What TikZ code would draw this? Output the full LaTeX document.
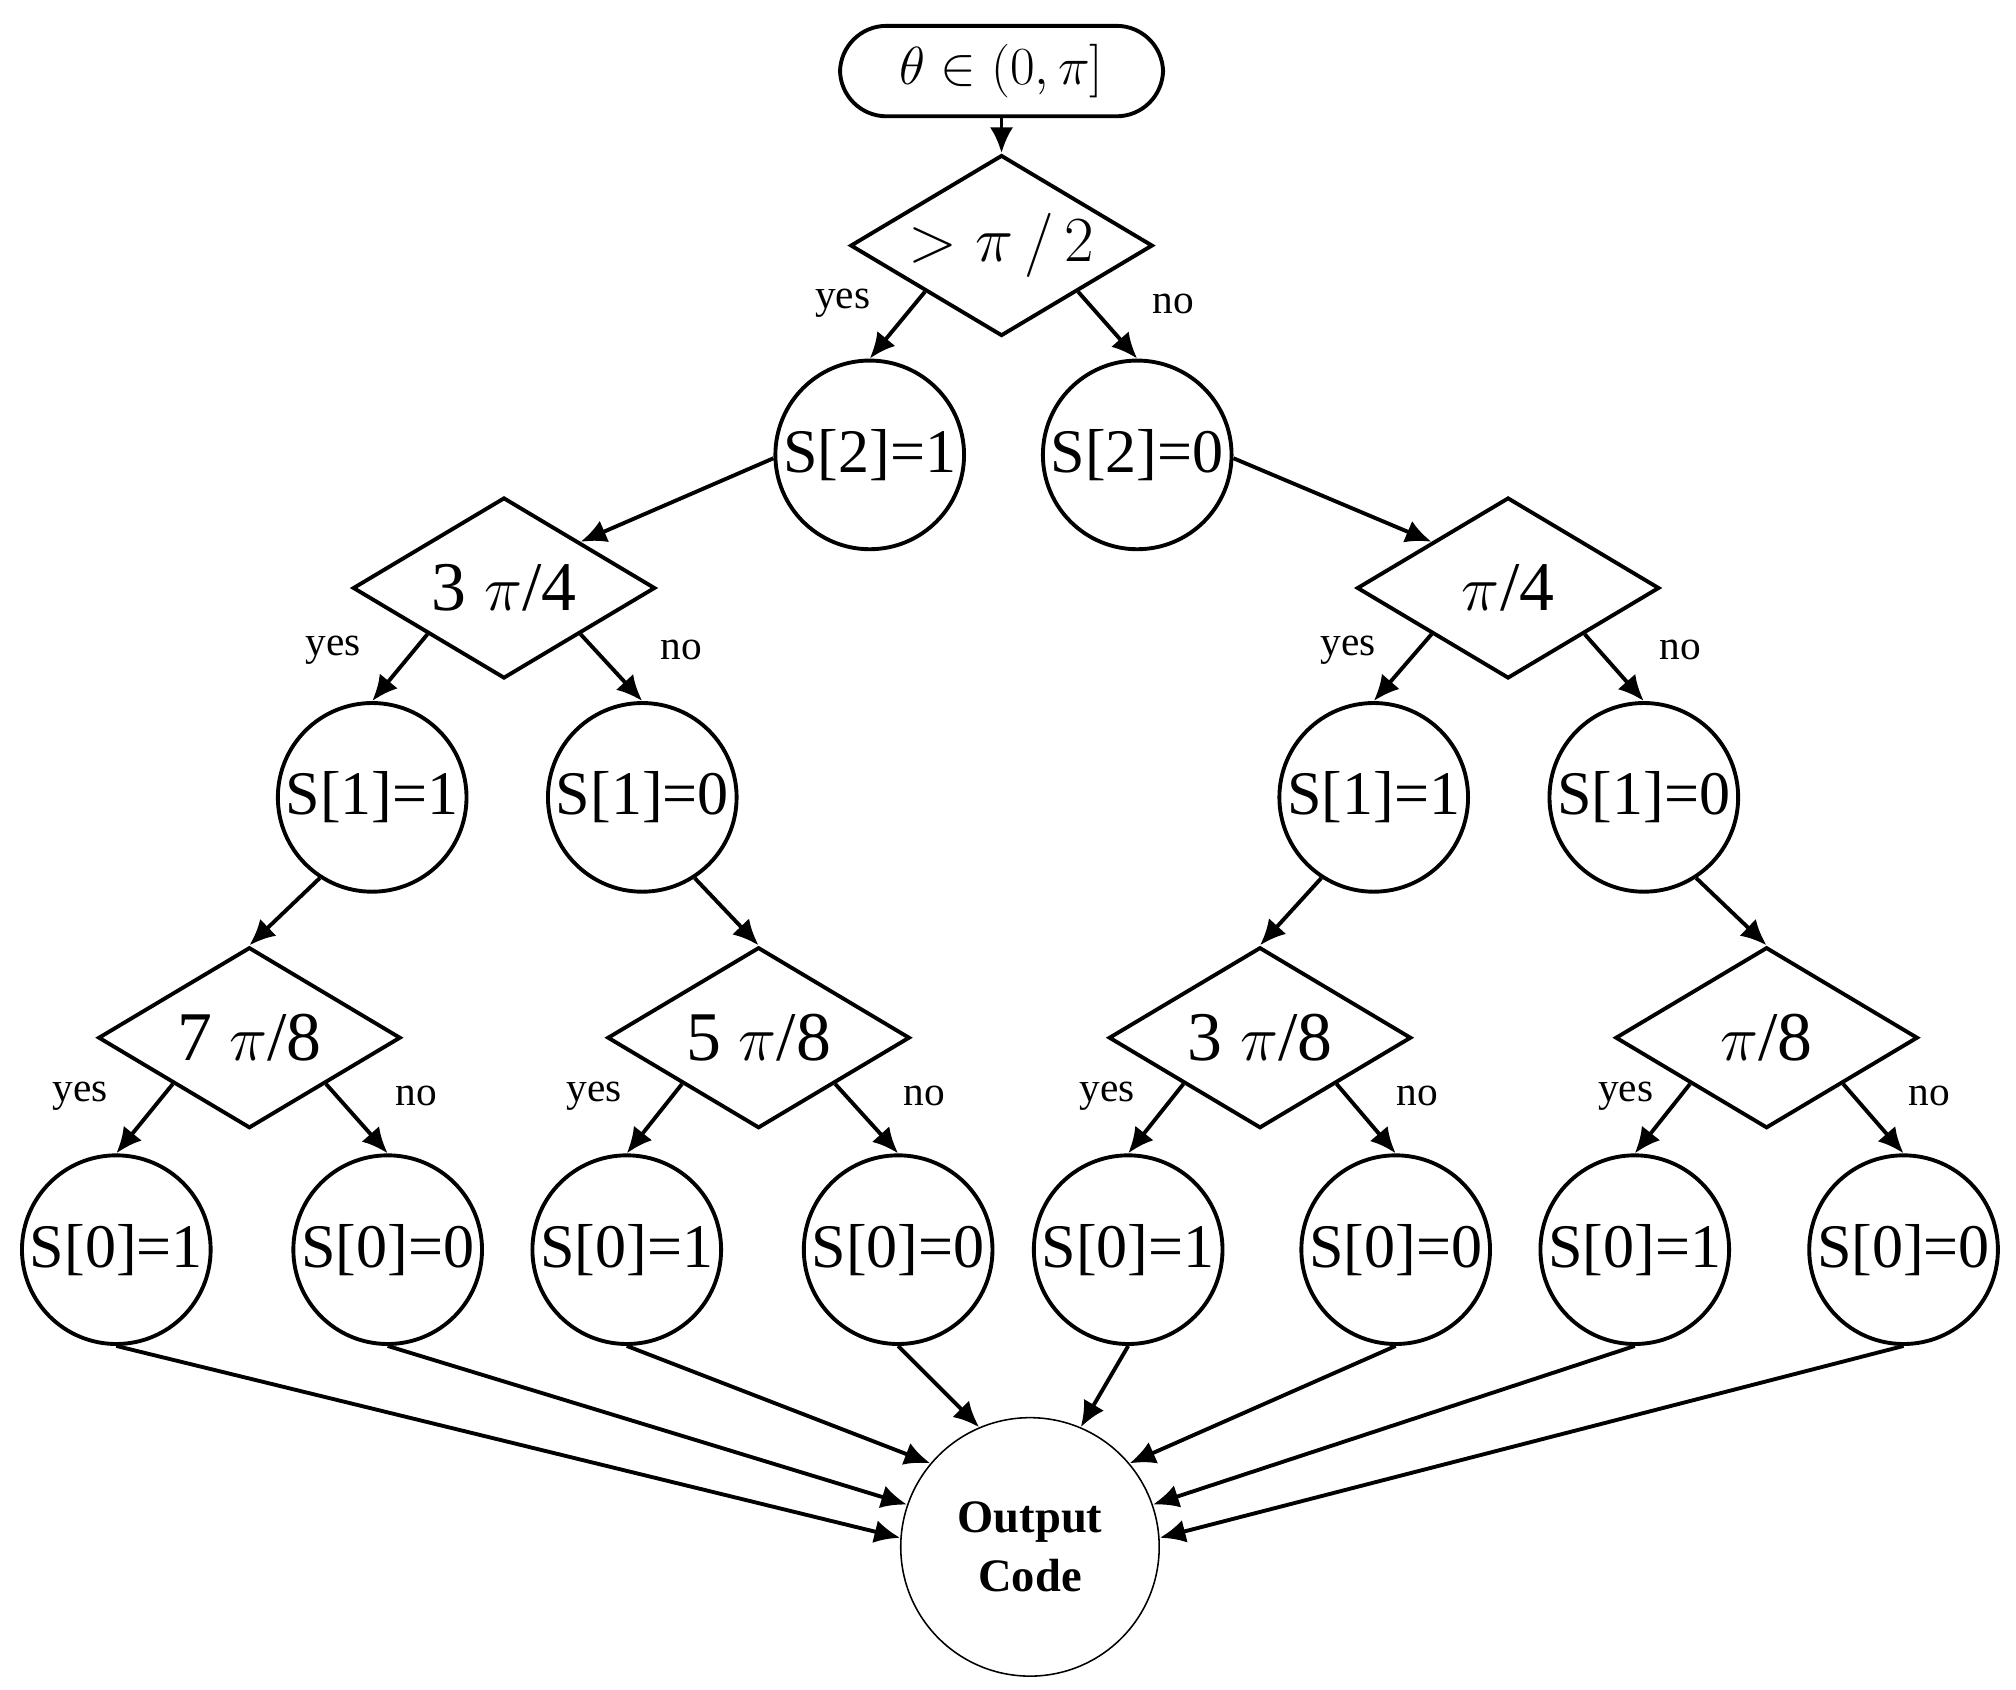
\documentclass[tikz,border=0pt]{standalone}
\usepackage{fontspec}
\setmainfont{Liberation Serif}
\usetikzlibrary{shapes.geometric,arrows.meta}
\begin{document}
\begin{tikzpicture}[x=0.5pt,y=-0.5pt,
  every path/.style={line width=1.5pt},
  arr/.style={-{Latex[length=10pt,width=9pt]},line width=1.5pt},
  circ/.style={circle,draw,line width=1.5pt,minimum size=73pt,inner sep=0pt,font=\fontsize{24}{28}\selectfont},
  dia/.style={diamond,draw,line width=1.5pt,minimum width=117pt,minimum height=70pt,inner sep=0pt,
    label={[font=\fontsize{27}{30}\selectfont]center:#1}},
  lab/.style={font=\fontsize{16}{18}\selectfont}]
\useasboundingbox (0,0) rectangle (1560,1307);
\node[draw,rounded corners=18pt,minimum width=125pt,minimum height=35pt,line width=1.5pt,font=\fontsize{22}{26}\selectfont] (top) at (775,55) {$\theta\in\bigl(0,\pi\bigr]$};
\node[dia={$>\pi\,/\,2$}] (D1) at (775,190) {};
\node[circ] (S21) at (673,352) {S[2]=1};
\node[circ] (S20) at (880,352) {S[2]=0};
\node[dia={3 $\pi$/4}] (D2) at (390,455) {};
\node[dia={$\pi$/4}] (D3) at (1167,455) {};
\node[circ] (A1) at (288,617) {S[1]=1};
\node[circ] (A0) at (497,617) {S[1]=0};
\node[circ] (B1) at (1063,617) {S[1]=1};
\node[circ] (B0) at (1272,617) {S[1]=0};
\node[dia={7 $\pi$/8}] (D4) at (193,803) {};
\node[dia={5 $\pi$/8}] (D5) at (587,803) {};
\node[dia={3 $\pi$/8}] (D6) at (975,803) {};
\node[dia={$\pi$/8}] (D7) at (1367,803) {};
\foreach \n/\x/\t in {a/90/1,b/300/0,c/485/1,d/695/0,e/873/1,f/1080/0,g/1265/1,h/1473/0}
  \node[circ] (S\n) at (\x,967) {S[0]=\t};
\node[circle,draw,line width=0.6pt,minimum size=100pt,align=center,font=\bfseries\fontsize{18}{23}\selectfont] (Out) at (797,1197) {Output\\Code};

\draw[arr] (top) -- (D1.north);
\draw[arr] (D1.south west) -- (S21.north);
\draw[arr] (D1.south east) -- (S20.north);
\draw[arr] (S21.182) -- (D2.north east);
\draw[arr] (S20.-2) -- (D3.north west);
\draw[arr] (D2.south west) -- (A1.north);
\draw[arr] (D2.south east) -- (A0.north);
\draw[arr] (D3.south west) -- (B1.north);
\draw[arr] (D3.south east) -- (B0.north);
\draw[arr] (A1.-123) -- (D4.north);
\draw[arr] (A0.-57) -- (D5.north);
\draw[arr] (B1.-123) -- (D6.north);
\draw[arr] (B0.-57) -- (D7.north);
\draw[arr] (D4.south west) -- (Sa.north);
\draw[arr] (D4.south east) -- (Sb.north);
\draw[arr] (D5.south west) -- (Sc.north);
\draw[arr] (D5.south east) -- (Sd.north);
\draw[arr] (D6.south west) -- (Se.north);
\draw[arr] (D6.south east) -- (Sf.north);
\draw[arr] (D7.south west) -- (Sg.north);
\draw[arr] (D7.south east) -- (Sh.north);
\foreach \n/\a in {a/176,b/161,c/140,d/113,e/67,f/40,g/19,h/4}
  \draw[arr] (S\n.south) -- (Out.\a);

\node[lab] (l1) at (652,235) {yes};
\node[lab] (l2) at (908,235) {no};
\node[lab] (l3) at (258,503) {yes};
\node[lab] (l4) at (527,503) {no};
\node[lab] (l5) at (1043,503) {yes};
\node[lab] (l6) at (1300,503) {no};
\foreach \x/\t [count=\i] in {62/yes,322/no,460/yes,715/no,857/yes,1097/no,1258/yes,1493/no}
  \node[lab] (b\i) at (\x,848) {\t};
\end{tikzpicture}
\end{document}
